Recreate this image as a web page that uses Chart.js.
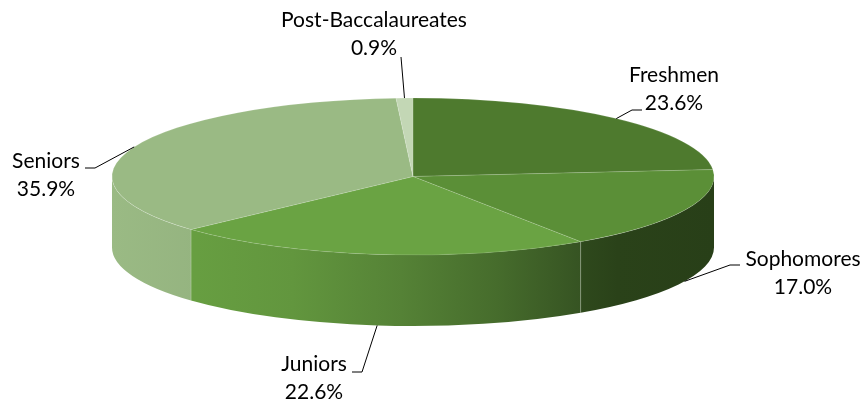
<!DOCTYPE html>
<html>
<head>
<meta charset="utf-8">
<title>Students by class level</title>
<script src="https://cdn.jsdelivr.net/npm/chart.js@4.4.0/dist/chart.umd.min.js"></script>
<style>
  html, body { margin: 0; padding: 0; background: #fff; }
  #wrap { width: 867px; height: 405px; }
</style>
</head>
<body>
<div id="wrap"><canvas id="chart" width="867" height="405"></canvas></div>
<script>
  // ---- data ----
  const categories = ['Freshmen', 'Sophomores', 'Juniors', 'Seniors', 'Post-Baccalaureates'];
  const shares = [23.6, 17.0, 22.6, 35.9, 0.9];
  const valueLabels = ['23.6%', '17.0%', '22.6%', '35.9%', '0.9%'];

  // ---- look ----
  const topColors = ['#4E7A2E', '#5B8F37', '#6AA343', '#9ABA84', '#C3D7B5'];
  const RADIUS = 301;          // horizontal radius of the disc
  const TILT = 78.5 / 301;     // vertical squash of the top face
  const DEPTH = 71;            // thickness of the disc
  const FONT = '21px Lato, "Open Sans", sans-serif';
  // horizontal lighting of the side wall: [position 0..1, brightness]
  const SHADE = [[0, 1.0], [0.14, 0.97], [0.3, 0.92], [0.48, 0.8], [0.64, 0.66], [0.77, 0.52], [0.84, 0.46], [1, 0.44]];

  // label block centre, leader elbow and leader end next to the text
  const labelLayout = [
    { x: 674, y: 75,  elbow: [632, 110], end: [642, 110] },
    { x: 803, y: 259, elbow: [730, 265], end: [740, 265] },
    { x: 314, y: 364, elbow: [362, 372], end: [352, 372] },
    { x: 46,  y: 161, elbow: [95, 168],  end: [85, 168] },
    { x: 374, y: 20,  elbow: [401, 57],  end: [401, 57] }
  ];

  function shade(hex, f) {
    const n = parseInt(hex.slice(1), 16);
    const r = Math.round(((n >> 16) & 255) * f);
    const g = Math.round(((n >> 8) & 255) * f);
    const b = Math.round((n & 255) * f);
    return `rgb(${r},${g},${b})`;
  }

  // parts of [s, e] lying on the front half of the disc (0..PI)
  function frontIntervals(s, e) {
    const out = [];
    for (let k = -1; k <= 2; k++) {
      const a = Math.max(s, 2 * Math.PI * k);
      const b = Math.min(e, 2 * Math.PI * k + Math.PI);
      if (b > a) out.push([a, b]);
    }
    return out;
  }

  const pie3d = {
    id: 'pie3d',
    beforeDatasetsDraw(chart) {
      const ctx = chart.ctx;
      const arcs = chart.getDatasetMeta(0).data;
      const cx = arcs[0].x, cy = arcs[0].y;

      // side walls
      arcs.forEach((arc, i) => {
        const r = arc.outerRadius, ry = r * TILT;
        frontIntervals(arc.startAngle, arc.endAngle).forEach(([a, b]) => {
          const g = ctx.createLinearGradient(cx - r, 0, cx + r, 0);
          SHADE.forEach(([t, f]) => g.addColorStop(t, shade(topColors[i], f)));
          ctx.beginPath();
          ctx.ellipse(cx, cy, r, ry, 0, a, b, false);
          ctx.lineTo(cx + r * Math.cos(b), cy + ry * Math.sin(b) + DEPTH);
          ctx.ellipse(cx, cy + DEPTH, r, ry, 0, b, a, true);
          ctx.closePath();
          ctx.fillStyle = g;
          ctx.fill();

          // faint seams where walls meet
          ctx.strokeStyle = 'rgba(255,255,255,0.18)';
          ctx.lineWidth = 1;
          [a, b].forEach(t => {
            if (Math.sin(t) > 0.01) {
              const x = cx + r * Math.cos(t), y = cy + ry * Math.sin(t);
              ctx.beginPath();
              ctx.moveTo(x, y);
              ctx.lineTo(x, y + DEPTH);
              ctx.stroke();
            }
          });
        });
      });

      // squash the top face
      ctx.save();
      ctx.translate(0, cy);
      ctx.scale(1, TILT);
      ctx.translate(0, -cy);
    },
    afterDatasetsDraw(chart) {
      const ctx = chart.ctx;
      ctx.restore();
      const arcs = chart.getDatasetMeta(0).data;
      const cx = arcs[0].x, cy = arcs[0].y;

      // leader lines and labels
      ctx.save();
      ctx.strokeStyle = '#000';
      ctx.lineWidth = 1;
      ctx.fillStyle = '#000';
      ctx.font = FONT;
      ctx.textAlign = 'center';
      ctx.textBaseline = 'middle';
      arcs.forEach((arc, i) => {
        const mid = (arc.startAngle + arc.endAngle) / 2;
        const r = arc.outerRadius, ry = r * TILT;
        const ax = cx + r * Math.cos(mid);
        const ay = cy + ry * Math.sin(mid) + (Math.sin(mid) > 0 ? DEPTH : 0);
        const L = labelLayout[i];
        ctx.beginPath();
        ctx.moveTo(ax, ay);
        ctx.lineTo(L.elbow[0], L.elbow[1]);
        ctx.lineTo(L.end[0], L.end[1]);
        ctx.stroke();
        ctx.fillText(categories[i], L.x, L.y);
        ctx.fillText(valueLabels[i], L.x, L.y + 28);
      });
      ctx.restore();
    }
  };

  new Chart(document.getElementById('chart'), {
    type: 'pie',
    data: {
      labels: categories,
      datasets: [{
        data: shares,
        backgroundColor: topColors,
        borderColor: 'rgba(255,255,255,0.22)',
        borderWidth: 1
      }]
    },
    options: {
      responsive: false,
      animation: false,
      devicePixelRatio: 1,
      radius: RADIUS,
      layout: { padding: { left: 0, right: 41, top: 0, bottom: 52 } },
      plugins: {
        legend: { display: false },
        tooltip: { enabled: false }
      }
    },
    plugins: [pie3d]
  });
</script>
</body>
</html>
